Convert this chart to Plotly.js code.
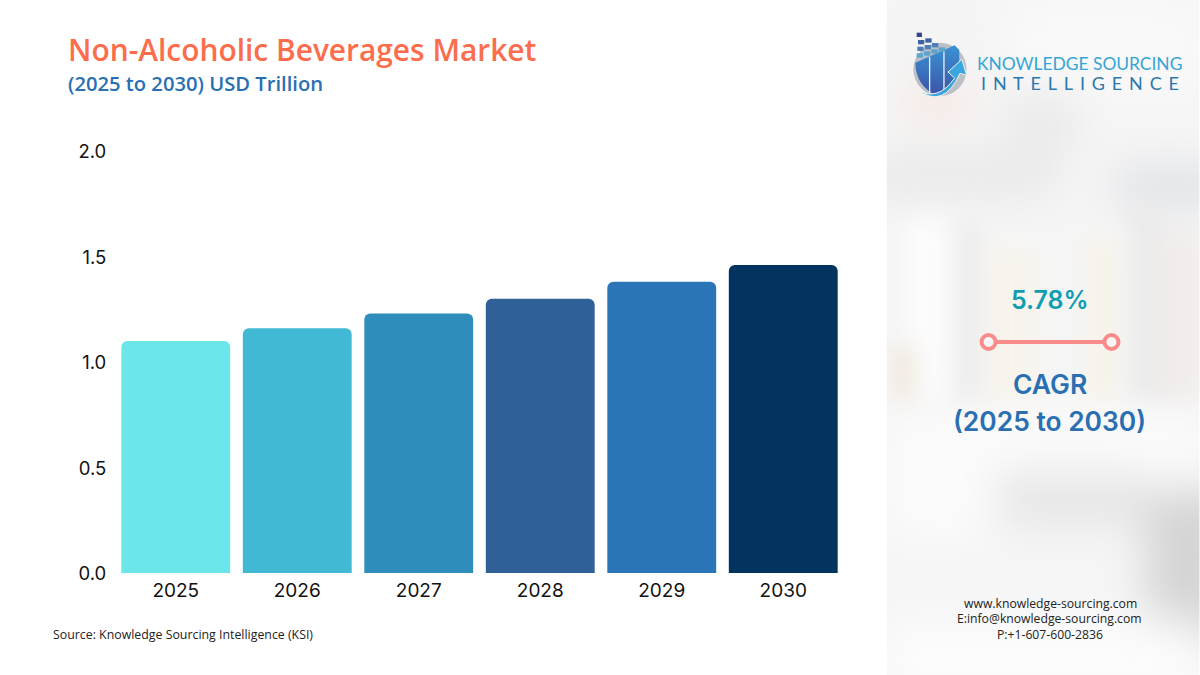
<!DOCTYPE html>
<html>
<head>
<meta charset="utf-8">
<script src="https://cdn.plot.ly/plotly-3.0.1.min.js"></script>
<style>html,body{margin:0;padding:0;background:#fff;overflow:hidden}#chart{width:1200px;height:675px}</style>
</head>
<body>
<div id="chart"></div>
<script>
const years = ['2025','2026','2027','2028','2029','2030'];
const marketValues = [1.10, 1.16, 1.23, 1.30, 1.38, 1.46];
const barColors = ['#6be6ea','#42b9d4','#2e8dbb','#2f6097','#2c74b8','#03335f'];
const yTickValues = [0, 0.5, 1, 1.5, 2];
const yTickLabels = ['0.0','0.5','1.0','1.5','2.0'];

const L = 114.7, R = 844.3, T = 151, B = 573;
const px = x => (x - L) / (R - L);
const py = y => (B - y) / (B - T);

const panelSvg = `<svg xmlns="http://www.w3.org/2000/svg" width="313" height="675" viewBox="0 0 313 675">
<defs><filter id="b" x="-30%" y="-30%" width="160%" height="160%"><feGaussianBlur stdDeviation="11"/></filter>
<filter id="c" x="-30%" y="-30%" width="160%" height="160%"><feGaussianBlur stdDeviation="22"/></filter></defs>
<rect width="313" height="675" fill="#f5f5f5"/>
<g filter="url(#c)">
<rect x="0" y="0" width="120" height="100" fill="#f4f4f4"/>
<rect x="120" y="0" width="200" height="90" fill="#f9f9f9"/>
<rect x="-20" y="155" width="190" height="40" fill="#e7e7e7"/>
<rect x="230" y="165" width="110" height="45" fill="#e0e2e6"/>
<rect x="20" y="90" width="60" height="25" fill="#f7dfd8"/>
<rect x="120" y="90" width="70" height="60" fill="#e9e9e9"/>
<rect x="0" y="410" width="313" height="130" fill="#fbfbfb"/>
<rect x="110" y="470" width="150" height="60" fill="#e6e6e6"/>
<rect x="260" y="490" width="90" height="150" fill="#d4d4d4"/>
<rect x="0" y="620" width="313" height="80" fill="#fcfcfc"/>
</g>
<g filter="url(#b)">
<rect x="20" y="220" width="45" height="180" fill="#fcfcfc"/>
<rect x="65" y="220" width="30" height="180" fill="#ededed"/>
<rect x="100" y="250" width="50" height="150" fill="#f8f4ec"/>
<rect x="200" y="240" width="30" height="160" fill="#f8f3e9"/>
<rect x="245" y="200" width="30" height="200" fill="#eaeaea"/>
<rect x="5" y="345" width="25" height="55" fill="#f2e9e0"/>
<rect x="275" y="230" width="40" height="170" fill="#f1ecea"/>
</g>
</svg>`;

const logoSvg = `<svg xmlns="http://www.w3.org/2000/svg" width="90" height="90" viewBox="0 0 270 270">
<defs><linearGradient id="g" x1="0" y1="0" x2="0" y2="1"><stop offset="0" stop-color="#3b93d3"/><stop offset="1" stop-color="#3a52a6"/></linearGradient>
<filter id="s"><feGaussianBlur stdDeviation="0.8"/></filter></defs>
<g filter="url(#s)">
<circle cx="106" cy="142" r="80" fill="#bcbfc6"/>
<path d="M32 122 L150 70 L164 84 L164 150 Q140 205 100 222 Q34 195 32 122Z" fill="url(#g)"/>
<path d="M75 104 V212 M118 86 V205" stroke="#e6eef6" stroke-width="4" fill="none"/>
<g fill="#5ba4cf"><rect x="36" y="94" width="19" height="13"/><rect x="58" y="88" width="19" height="13"/><rect x="80" y="82" width="19" height="13"/><rect x="102" y="76" width="19" height="13"/></g>
<g fill="#4c7fb6"><rect x="38" y="74" width="19" height="13"/><rect x="60" y="69" width="19" height="13"/><rect x="82" y="63" width="19" height="13"/></g>
<g fill="#3e64a3"><rect x="40" y="54" width="19" height="13"/><rect x="62" y="49" width="19" height="13"/></g>
<rect x="36" y="32" width="16" height="13" fill="#33478c"/>
<path d="M38 204 Q100 240 150 168 L130 150 L172 112 L186 160 L166 154 Q118 262 38 204Z" fill="#3aa6de" stroke="#f2f2f2" stroke-width="3"/>
</g>
</svg>`;
const uri = s => 'data:image/svg+xml;charset=utf-8,' + encodeURIComponent(s);

const text = (x, y, t, size, color, family, weight, anchor) => ({
  xref: 'paper', yref: 'paper', x: px(x), y: py(y), text: t, showarrow: false,
  xanchor: anchor || 'center', yanchor: 'middle',
  font: {size, color, family, weight: weight || 400}
});

const trace = {
  type: 'bar', x: years, y: marketValues,
  marker: {color: barColors, line: {width: 0}},
  hoverinfo: 'x+y'
};

const layout = {
  width: 1200, height: 675,
  margin: {l: L, r: 1200 - R, t: T, b: 675 - B, pad: 0},
  paper_bgcolor: '#ffffff', plot_bgcolor: 'rgba(0,0,0,0)',
  bargap: 0.104, barcornerradius: 6, showlegend: false,
  font: {family: 'Inter, sans-serif', color: '#111'},
  xaxis: {type: 'category', showgrid: false, zeroline: false, showline: false, ticks: '', ticklabelstandoff: 4,
    tickfont: {size: 19, family: 'Inter, sans-serif', color: '#111'}, automargin: false},
  yaxis: {range: [0, 2], tickvals: yTickValues, ticktext: yTickLabels, showgrid: false, zeroline: false,
    showline: false, ticks: 'outside', ticklen: 4, tickcolor: 'rgba(0,0,0,0)', ticklabelshift: 1,
    tickfont: {size: 18.5, family: 'Inter, sans-serif', color: '#111'}, automargin: false},
  images: [
    {source: uri(panelSvg), xref: 'paper', yref: 'paper', x: px(887), y: py(0), sizex: 313 / (R - L), sizey: 675 / (B - T),
     xanchor: 'left', yanchor: 'top', sizing: 'stretch', layer: 'below'},
    {source: uri(logoSvg), xref: 'paper', yref: 'paper', x: px(905), y: py(22), sizex: 90 / (R - L), sizey: 90 / (B - T),
     xanchor: 'left', yanchor: 'top', sizing: 'stretch', layer: 'above'}
  ],
  shapes: [
    {type: 'line', xref: 'paper', yref: 'paper', x0: px(989), x1: px(1112), y0: py(342), y1: py(342), line: {color: '#f98b8b', width: 4}},
    {type: 'circle', xref: 'paper', yref: 'paper', x0: px(982), x1: px(996), y0: py(335), y1: py(349), fillcolor: '#f6f6f6', line: {color: '#f98b8b', width: 4}},
    {type: 'circle', xref: 'paper', yref: 'paper', x0: px(1105), x1: px(1119), y0: py(335), y1: py(349), fillcolor: '#f6f6f6', line: {color: '#f98b8b', width: 4}}
  ],
  annotations: [
    text(66, 50, 'Non-Alcoholic Beverages Market', 29.9, '#fb6d4c', 'Open Sans', 600, 'left'),
    text(66, 83, '(2025 to 2030) USD Trillion', 20.2, '#2a6fb2', 'Open Sans', 600, 'left'),
    text(51, 634, 'Source: Knowledge Sourcing Intelligence (KSI)', 12.35, '#222', 'Open Sans', 400, 'left'),
    text(1050, 300, '5.78%', 25, '#0e9db1', 'Inter', 600),
    text(1050, 384, 'CAGR', 26.5, '#2a6fb2', 'Inter', 600),
    text(1050, 421, '(2025 to 2030)', 26.4, '#2a6fb2', 'Inter', 600),
    text(1050.5, 603, 'www.knowledge-sourcing.com', 12.2, '#222', 'Open Sans', 400),
    text(1050, 618.5, 'E:info@knowledge-sourcing.com', 12.2, '#222', 'Open Sans', 400),
    text(1050.5, 634, 'P:+1-607-600-2836', 12.2, '#222', 'Open Sans', 400),
    text(1080, 63, 'KNOWLEDGE SOURCING', 17.4, '#35a5d5', 'Lato', 400),
    text(1080, 83, 'I\u2009 N\u2009 T\u2009 E\u2009 L\u2009 L\u2009 I\u2009 G\u2009 E\u2009 N\u2009 C\u2009 E', 18, '#2a78ad', 'Lato', 400)
  ]
};

Plotly.newPlot('chart', [trace], layout, {displayModeBar: false, responsive: false});
</script>
</body>
</html>
